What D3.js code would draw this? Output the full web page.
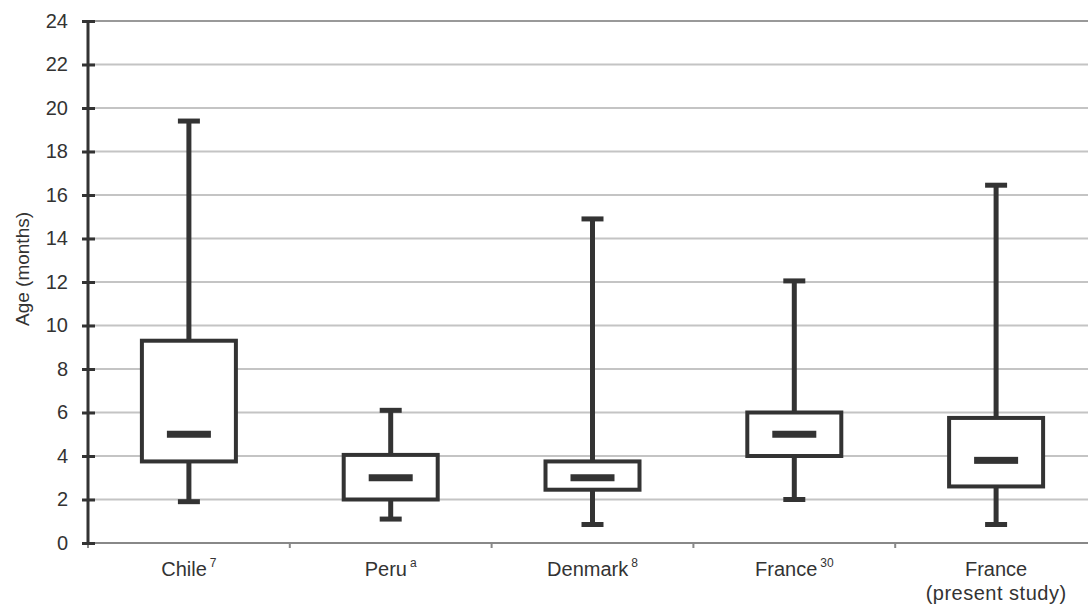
<!DOCTYPE html>
<html>
<head>
<meta charset="utf-8">
<script src="https://cdn.jsdelivr.net/npm/d3@7"></script>
<style>
  body { margin: 0; background: #fff; }
  text { font-family: "Liberation Sans", Arial, sans-serif; fill: #333; }
</style>
</head>
<body>
<div id="svg"></div>
<script>
/*
 * Data.
 */
var categories = ["Chile", "Peru", "Denmark", "France", "France"]
  , superscripts = ["7", "a", "8", "30", ""]
  , secondLines = ["", "", "", "", "(present study)"]
  , whiskerLow = [1.9, 1.1, 0.85, 2.0, 0.85]
  , boxLow = [3.75, 2.0, 2.45, 4.0, 2.6]
  , medians = [5.0, 3.0, 3.0, 5.0, 3.8]
  , boxHigh = [9.3, 4.05, 3.75, 6.0, 5.75]
  , whiskerHigh = [19.4, 6.1, 14.9, 12.05, 16.45]
  , yTicks = d3.range(0, 25, 2);

var width = 1088
  , height = 606
  , plotLeft = 88
  , plotTop = 21
  , plotBottom = 543
  , plotRight = 1097
  , dark = "#333";

var svg = d3.select('#svg').append('svg')
  .attr('width', width)
  .attr('height', height);

var x = d3.scaleBand()
  .domain(d3.range(categories.length))
  .range([plotLeft, plotRight]);

var y = d3.scaleLinear()
  .domain([0, 24])
  .range([plotBottom, plotTop]);

/*
 * Gridlines
 */
svg.append('g').selectAll('line')
  .data(yTicks.filter(function(d) { return d > 0; }))
  .enter().append('line')
  .attr('x1', plotLeft).attr('x2', width)
  .attr('y1', function(d) { return y(d); })
  .attr('y2', function(d) { return y(d); })
  .attr('stroke', function(d) { return d === 24 ? '#999' : '#c4c4c4'; })
  .attr('stroke-width', 2);

/*
 * X axis line and category ticks
 */
svg.append('line')
  .attr('x1', plotLeft).attr('x2', width)
  .attr('y1', y(0)).attr('y2', y(0))
  .attr('stroke', '#888').attr('stroke-width', 2);

svg.append('g').selectAll('line')
  .data(d3.range(categories.length + 1))
  .enter().append('line')
  .attr('x1', function(d) { return plotLeft + d * x.step(); })
  .attr('x2', function(d) { return plotLeft + d * x.step(); })
  .attr('y1', y(0)).attr('y2', y(0) + 5)
  .attr('stroke', '#888').attr('stroke-width', 2);

/*
 * Y axis
 */
var yAxis = svg.append('g')
  .attr('transform', 'translate(' + plotLeft + ',0)')
  .call(d3.axisLeft(y).tickValues(yTicks).tickSize(6).tickPadding(14));

yAxis.select('.domain').remove();
yAxis.selectAll('.tick line')
  .attr('x1', -6).attr('x2', 7)
  .attr('stroke', dark).attr('stroke-width', 3);
yAxis.selectAll('.tick text')
  .style('font-size', '20px')
  .style('font-family', '"Liberation Sans", Arial, sans-serif')
  .attr('fill', '#333');

svg.append('line')
  .attr('x1', plotLeft).attr('x2', plotLeft)
  .attr('y1', y(24)).attr('y2', y(0))
  .attr('stroke', dark).attr('stroke-width', 3);

svg.append('text')
  .attr('transform', 'translate(29,269) rotate(-90)')
  .attr('text-anchor', 'middle')
  .style('font-size', '19px')
  .text('Age (months)');

/*
 * Boxes
 */
var boxes = svg.append('g').selectAll('g')
  .data(categories)
  .enter().append('g')
  .attr('transform', function(d, i) {
    return 'translate(' + (x(i) + x.bandwidth() / 2) + ',0)';
  });

// whiskers
boxes.append('line')
  .attr('x1', 0).attr('x2', 0)
  .attr('y1', function(d, i) { return y(whiskerHigh[i]); })
  .attr('y2', function(d, i) { return y(whiskerLow[i]); })
  .attr('stroke', dark).attr('stroke-width', 5);

// caps
[whiskerHigh, whiskerLow].forEach(function(arr) {
  boxes.append('line')
    .attr('x1', -11).attr('x2', 11)
    .attr('y1', function(d, i) { return y(arr[i]); })
    .attr('y2', function(d, i) { return y(arr[i]); })
    .attr('stroke', dark).attr('stroke-width', 5);
});

boxes.append('rect')
  .attr('x', -47)
  .attr('width', 94)
  .attr('y', function(d, i) { return y(boxHigh[i]); })
  .attr('height', function(d, i) { return y(boxLow[i]) - y(boxHigh[i]); })
  .attr('fill', '#fff')
  .attr('stroke', dark).attr('stroke-width', 4);

boxes.append('rect')
  .attr('x', -22)
  .attr('width', 44)
  .attr('y', function(d, i) { return y(medians[i]) - 3.5; })
  .attr('height', 7)
  .attr('fill', dark);

/*
 * Category labels
 */
var labels = boxes.append('text')
  .attr('y', 576)
  .attr('text-anchor', 'middle')
  .style('font-size', '20px');

labels.append('tspan')
  .text(function(d) { return d; });

labels.append('tspan')
  .attr('dx', 3)
  .attr('dy', -9)
  .style('font-size', '12px')
  .text(function(d, i) { return superscripts[i]; });

boxes.append('text')
  .attr('y', 600)
  .attr('text-anchor', 'middle')
  .style('font-size', '20px')
  .style('letter-spacing', '0.5px')
  .text(function(d, i) { return secondLines[i]; });
</script>
</body>
</html>
